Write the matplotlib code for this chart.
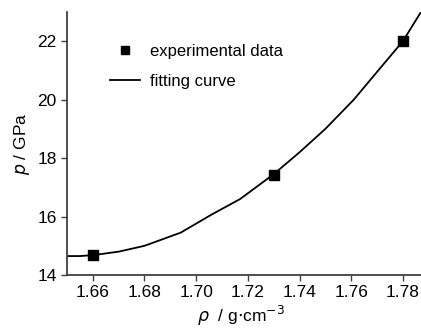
import matplotlib
matplotlib.use('Agg')
import matplotlib.pyplot as plt

plt.rcParams['font.family'] = ['Liberation Sans', 'DejaVu Sans']

# experimental points
rho_exp = [1.66, 1.73, 1.78]
p_exp = [14.67, 17.43, 22.0]

# fitting curve
rho_fit = [1.650, 1.655, 1.660, 1.670, 1.680, 1.694, 1.706, 1.717, 1.730,
           1.740, 1.750, 1.761, 1.770, 1.780, 1.787]
p_fit = [14.65, 14.65, 14.68, 14.80, 15.00, 15.45, 16.07, 16.60, 17.45,
         18.20, 19.00, 20.00, 20.95, 22.00, 23.00]

xticks = [1.66, 1.68, 1.70, 1.72, 1.74, 1.76, 1.78]
yticks = [14, 16, 18, 20, 22]

fig = plt.figure(figsize=(4.21, 3.31), dpi=100)
ax = fig.add_axes([0.159, 0.169, 0.841, 0.795])

ax.plot(rho_fit, p_fit, color='black', lw=1.3, label='fitting curve')
ax.plot(rho_exp, p_exp, 's', color='black', ms=6.5, label='experimental data')

ax.set_xlim(1.65, 1.787)
ax.set_ylim(14, 23)
ax.set_xticks(xticks)
ax.set_xticklabels(['%.2f' % v for v in xticks])
ax.set_yticks(yticks)

for s in ['top', 'right']:
    ax.spines[s].set_visible(False)
for s in ['left', 'bottom']:
    ax.spines[s].set_color('#404040')
    ax.spines[s].set_linewidth(1.3)
ax.tick_params(direction='out', length=4, width=1, color='#404040', labelsize=12.5)

ax.set_ylabel(r'$p$ / GPa', fontsize=12.5, labelpad=4)
ax.set_xlabel(r'$\rho$  / g$\cdot$cm$^{-3}$', fontsize=12.5, labelpad=4)
ax.xaxis.set_label_coords(0.49, -0.11)

h, l = ax.get_legend_handles_labels()
leg = ax.legend(h[::-1], l[::-1], loc='upper left', bbox_to_anchor=(0.08, 0.935),
                frameon=False, fontsize=12, handlelength=1.8, handletextpad=0.6,
                markerscale=0.8, labelspacing=0.9)

fig.savefig('out.png', dpi=100)
